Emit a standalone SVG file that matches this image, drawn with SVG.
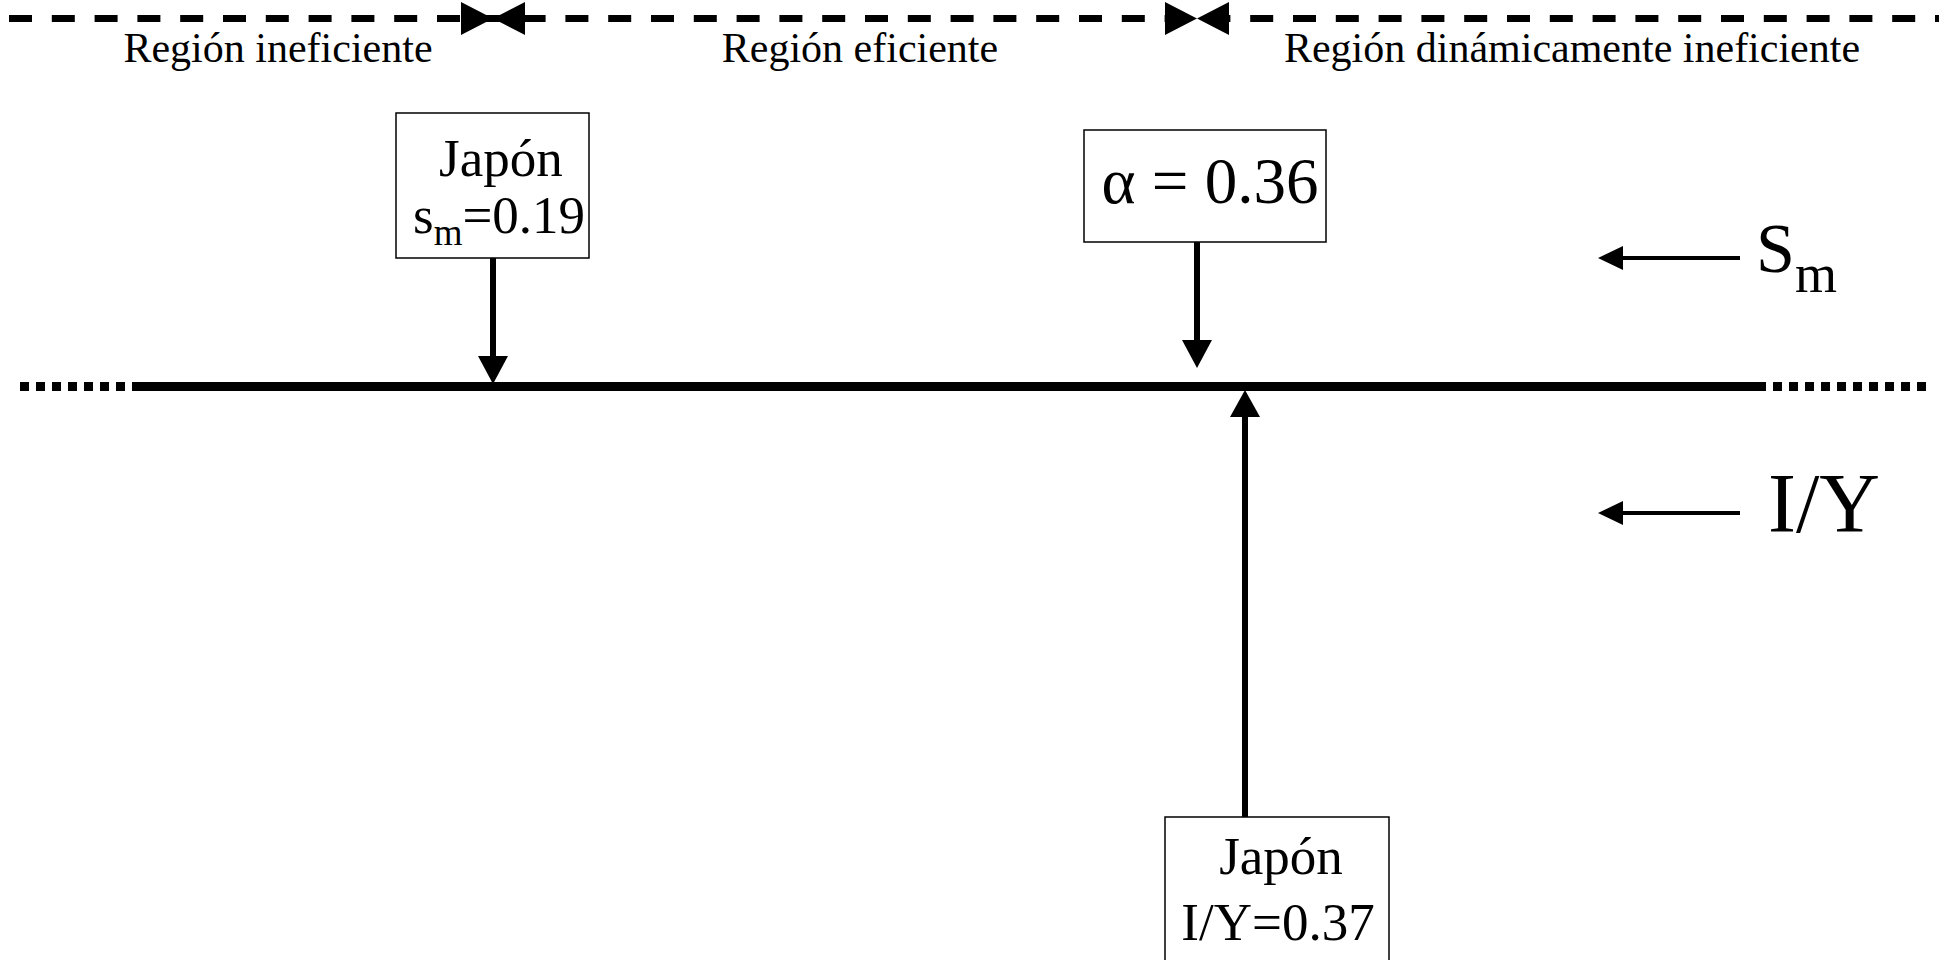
<svg xmlns="http://www.w3.org/2000/svg" width="1939" height="960" viewBox="0 0 1939 960">
<style>
  text { font-family: "Liberation Serif", "Times New Roman", serif; fill: #000; }
  .region { font-size: 42px; }
  .box { fill: #fff; stroke: #000; stroke-width: 1.5; }
  .bt { font-size: 53px; }
  .shaft { stroke: #000; stroke-width: 6; fill: none; }
  .thin { stroke: #000; stroke-width: 4; fill: none; }
  .head { fill: #000; }
</style>
<rect width="1939" height="960" fill="#fff"/>

<g id="top-axis">
  <line x1="9" y1="18.5" x2="1939" y2="18.5" stroke="#000" stroke-width="7" stroke-dasharray="23 19.8"/>
  <polygon class="head" points="461,2 493,18.5 461,35"/>
  <polygon class="head" points="525,2 493,18.5 525,35"/>
  <polygon class="head" points="1165,2 1197,18.5 1165,35"/>
  <polygon class="head" points="1229,2 1197,18.5 1229,35"/>
  <text class="region" x="278" y="62" text-anchor="middle">Región ineficiente</text>
  <text class="region" x="860" y="62" text-anchor="middle">Región eficiente</text>
  <text class="region" x="1572" y="62" text-anchor="middle">Región dinámicamente ineficiente</text>
</g>

<g id="main-line">
  <line x1="20" y1="386.5" x2="141" y2="386.5" stroke="#000" stroke-width="9" stroke-dasharray="9 7"/>
  <line x1="138" y1="386.5" x2="1758" y2="386.5" stroke="#000" stroke-width="9"/>
  <line x1="1757" y1="386.5" x2="1927" y2="386.5" stroke="#000" stroke-width="9" stroke-dasharray="9 7"/>
</g>

<g id="node-japon-sm">
  <rect class="box" x="396" y="113" width="193" height="145"/>
  <text class="bt" x="439" y="176">Japón</text>
  <text class="bt" x="413" y="233">s<tspan font-size="37" dy="12">m</tspan><tspan dy="-12">=0.19</tspan></text>
</g>

<g id="node-alpha">
  <rect class="box" x="1084" y="130" width="242" height="112"/>
  <text x="1210" y="203" font-size="65" text-anchor="middle">α = 0.36</text>
</g>

<g id="node-japon-iy">
  <rect class="box" x="1165" y="817" width="224" height="170"/>
  <text class="bt" x="1281" y="874" text-anchor="middle">Japón</text>
  <text class="bt" x="1278" y="940" text-anchor="middle">I/Y=0.37</text>
</g>

<g id="label-sm">
  <text x="1756" y="272" font-size="70">S<tspan font-size="54" dy="20">m</tspan></text>
</g>

<g id="label-iy">
  <text x="1768" y="532" font-size="84">I/Y</text>
</g>

<g id="connectors">
  <line class="shaft" x1="493" y1="258" x2="493" y2="358"/>
  <polygon class="head" points="478,356 508,356 493,384"/>
  <line class="shaft" x1="1197" y1="242" x2="1197" y2="342"/>
  <polygon class="head" points="1182,340 1212,340 1197,368"/>
  <line class="shaft" x1="1245" y1="817" x2="1245" y2="415"/>
  <polygon class="head" points="1230,417 1260,417 1245,390"/>
  <line class="thin" x1="1740" y1="258" x2="1620" y2="258"/>
  <polygon class="head" points="1623,246 1623,270 1598,258"/>
  <line class="thin" x1="1740" y1="513" x2="1620" y2="513"/>
  <polygon class="head" points="1623,501 1623,525 1598,513"/>
</g>
</svg>
